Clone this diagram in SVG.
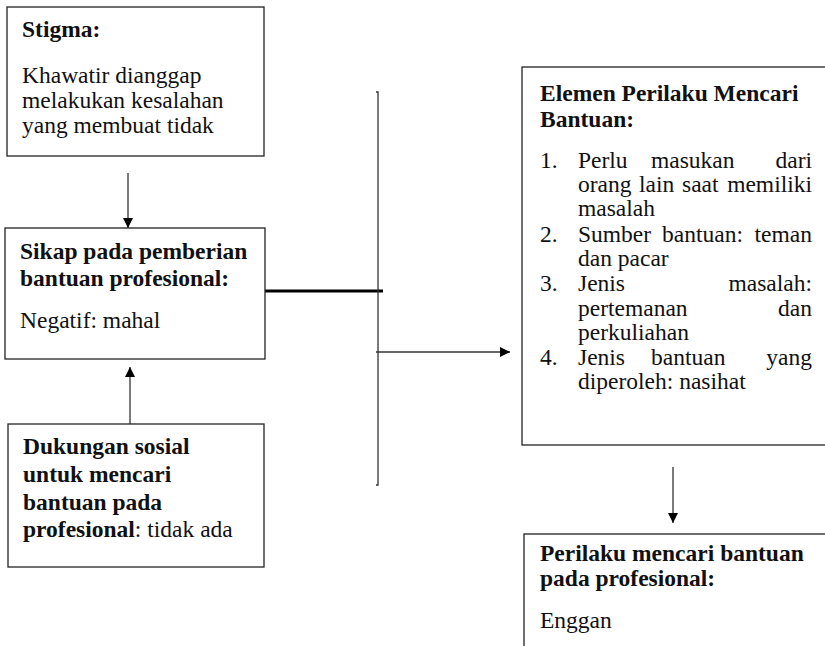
<svg xmlns="http://www.w3.org/2000/svg" width="825" height="646" viewBox="0 0 825 646">
  <defs>
    <style>
      .box { fill: #fff; stroke: #222; stroke-width: 1.3; }
      .t { font-size: 23.5px; fill: #111; }
      .b { font-weight: bold; }
      .line { stroke: #333; stroke-width: 1.3; fill: none; }
      .thick { stroke: #000; stroke-width: 3; fill: none; }
    </style>
    <marker id="arrow" viewBox="0 0 10 10" refX="10" refY="5" markerWidth="10" markerHeight="10" markerUnits="userSpaceOnUse" orient="auto">
      <path d="M0,0 L10,5 L0,10 Z" fill="#000"/>
    </marker>
  </defs>

  <rect width="825" height="646" fill="#fff"/>

  <!-- connectors -->
  <g id="connectors">
    <line class="line" x1="128" y1="173" x2="128" y2="228" marker-end="url(#arrow)"/>
    <line class="line" x1="130" y1="424" x2="130" y2="367" marker-end="url(#arrow)"/>
    <line class="thick" x1="265" y1="291" x2="383" y2="291"/>
    <polyline class="line" points="376,92 378,92 378,485 376,485"/>
    <line class="line" x1="376" y1="352" x2="510" y2="352" marker-end="url(#arrow)"/>
    <line class="line" x1="673" y1="467" x2="673" y2="523" marker-end="url(#arrow)"/>
  </g>

  <g font-family="'Liberation Serif', 'Times New Roman', Tinos, 'DejaVu Serif', serif">
  <!-- Stigma -->
  <g id="stigma">
    <rect class="box" x="7" y="7" width="257" height="149"/>
    <text class="t b" x="22" y="37">Stigma:</text>
    <text class="t" x="22" y="83">Khawatir dianggap</text>
    <text class="t" x="22" y="108">melakukan kesalahan</text>
    <text class="t" x="22" y="133">yang membuat tidak</text>
  </g>

  <!-- Sikap -->
  <g id="sikap">
    <rect class="box" x="5" y="228" width="260" height="131"/>
    <text class="t b" x="20" y="259">Sikap pada pemberian</text>
    <text class="t b" x="20" y="286">bantuan profesional:</text>
    <text class="t" x="20" y="328">Negatif: mahal</text>
  </g>

  <!-- Dukungan sosial -->
  <g id="dukungan">
    <rect class="box" x="8" y="424" width="256" height="143"/>
    <text class="t b" x="23" y="454">Dukungan sosial</text>
    <text class="t b" x="23" y="482">untuk mencari</text>
    <text class="t b" x="23" y="510">bantuan pada</text>
    <text class="t" x="23" y="537"><tspan class="b">profesional</tspan>: tidak ada</text>
  </g>

  <!-- Elemen perilaku mencari bantuan (justified list) -->
  <g id="elemen">
    <rect class="box" x="522" y="67" width="320" height="378"/>
    <text class="t b" x="540" y="101">Elemen Perilaku Mencari</text>
    <text class="t b" x="540" y="127">Bantuan:</text>
    <text class="t" x="540" y="168">1.</text>
    <text class="t" x="578" y="168">Perlu</text>
    <text class="t" x="651" y="168">masukan</text>
    <text class="t" x="812" y="168" text-anchor="end">dari</text>
    <text class="t" x="578" y="192">orang</text>
    <text class="t" x="639" y="192">lain</text>
    <text class="t" x="682" y="192">saat</text>
    <text class="t" x="812" y="192" text-anchor="end">memiliki</text>
    <text class="t" x="578" y="216">masalah</text>
    <text class="t" x="540" y="242">2.</text>
    <text class="t" x="578" y="242">Sumber</text>
    <text class="t" x="662" y="242">bantuan:</text>
    <text class="t" x="812" y="242" text-anchor="end">teman</text>
    <text class="t" x="578" y="266">dan pacar</text>
    <text class="t" x="540" y="291">3.</text>
    <text class="t" x="578" y="291">Jenis</text>
    <text class="t" x="812" y="291" text-anchor="end">masalah:</text>
    <text class="t" x="578" y="316">pertemanan</text>
    <text class="t" x="812" y="316" text-anchor="end">dan</text>
    <text class="t" x="578" y="340">perkuliahan</text>
    <text class="t" x="540" y="365">4.</text>
    <text class="t" x="578" y="365">Jenis</text>
    <text class="t" x="651" y="365">bantuan</text>
    <text class="t" x="812" y="365" text-anchor="end">yang</text>
    <text class="t" x="578" y="389">diperoleh: nasihat</text>
  </g>

  <!-- Perilaku mencari bantuan pada profesional -->
  <g id="perilaku">
    <rect class="box" x="524" y="534" width="320" height="130"/>
    <text class="t b" x="540" y="561">Perilaku mencari bantuan</text>
    <text class="t b" x="540" y="586">pada profesional:</text>
    <text class="t" x="540" y="628">Enggan</text>
  </g>
  </g>
</svg>
